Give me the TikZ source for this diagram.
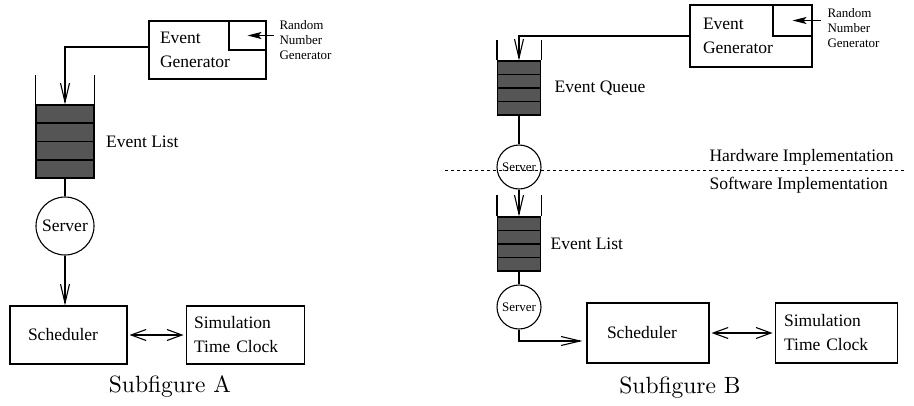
\documentclass[tikz,border=0pt]{standalone}
\usepackage{fontspec}
\newfontfamily\tnr{Liberation Serif}
\newfontfamily\capfont{lmroman10-regular}[Extension=.otf]
\usetikzlibrary{calc, arrows.meta, positioning}
\definecolor{stackgray}{RGB}{85,85,85}

\begin{document}
\begin{tikzpicture}[
    x=1pt, y=-1pt,
    line width=1.1pt,
    every node/.style={
            font=\tnr\fontsize{17.5}{24}\selectfont,
            inner sep=0pt
        },
    box/.style={
            draw,
            rectangle,
            minimum width=117pt,
            minimum height=58pt,
            align=left
        },
    smallbox/.style={draw, rectangle, anchor=north east},
    stack/.style={draw, rectangle, fill=stackgray},
    server/.style={draw, circle},
    small/.style={font=\tnr\fontsize{13}{15}\selectfont},
    caption/.style={font=\capfont\fontsize{23.5}{28}\selectfont},
    conn/.style={-{Straight Barb[length=19pt, width=9pt]}},
    dbl/.style={{Straight Barb[length=15pt, width=11pt]}-{Straight Barb[length=15pt, width=11pt]}, shorten <=2pt, shorten >=2pt},
    rngarrow/.style={-{Stealth[length=14pt, width=7pt, inset=3pt]}},
    divider/.style={line width=0.7pt, dash pattern=on 3pt off 3pt},
    ]

    \useasboundingbox (0,0) rectangle (914,405);

    % --- Subfigure A ---
    \node (genA) [box, text width=95pt] at (207.5,50) {Event\\Generator};
    \node (rngA) [smallbox, minimum width=37pt, minimum height=29pt] at (genA.north east) {};
    \node (rngAtext) [small, anchor=west, align=left] at (279,40) {Random\\Number\\Generator};
    \node (queueA) [stack, minimum width=58pt, minimum height=73pt] at (65,141.5) {};
    \node (listA) [right=11pt of queueA] {Event List};
    \node (serverA) [server, minimum size=58pt] at (65,226) {Server};
    \node (schedA) [box, text width=81pt] at (68.5,335) {Scheduler};
    \node (clockA) [box, minimum width=118pt, text width=102pt, right=58pt of schedA] {Simulation\\Time Clock};
    \node (capA) [caption] at (170,387) {Subfigure A};

    \draw[rngarrow] ([xshift=7pt]rngA.east) -- (rngA.center);
    \draw[conn] ([yshift=3pt]genA.west) -| (queueA.north);
    \draw (queueA.north west) -- ++(0,-29);
    \draw (queueA.north east) -- ++(0,-29);
    \foreach \f in {0.25,0.5,0.75}
    \draw ($(queueA.north west)!\f!(queueA.south west)$) -- ($(queueA.north east)!\f!(queueA.south east)$);
    \draw (queueA.south) -- (serverA.north);
    \draw[conn] (serverA.south) -- (serverA.south |- schedA.north);
    \draw[dbl] (schedA.east) -- (clockA.west);

    % --- Subfigure B ---
    \node (genB) [box, minimum width=122pt, minimum height=62pt, text width=96pt] at (751,36) {Event\\Generator};
    \node (rngB) [smallbox, minimum width=39pt, minimum height=31pt] at (genB.north east) {};
    \node (rngBtext) [small, anchor=west, align=left] at (827,28.5) {Random\\Number\\Generator};
    \node (queueB) [stack, minimum width=43pt, minimum height=54pt] at (519,88) {};
    \node (queueBtext) [right=13pt of queueB] {Event Queue};
    \node (serverB) [server, small, minimum size=44pt] at (519,167) {Server};
    \node (listB) [stack, minimum width=43pt, minimum height=54pt] at (519,244) {};
    \node (listBtext) [right=9pt of listB] {Event List};
    \node (serverB2) [server, small, minimum size=44pt] at (519,307) {Server};
    \node (schedB) [box, minimum width=122pt, minimum height=60pt, text width=82pt] at (648,333) {Scheduler};
    \node (clockB) [box, minimum width=122pt, minimum height=60pt, text width=104pt, right=65pt of schedB] {Simulation\\Time Clock};
    \node (hw) [anchor=west] at (709,157) {Hardware Implementation};
    \node (sw) [anchor=west] at (709,185) {Software Implementation};
    \node (capB) [caption] at (680,388) {Subfigure B};

    % --- Hardware / Software split ---
    \coordinate (divL) at (445,170);
    \coordinate (divR) at (905,170);
    \draw[divider] (divL) -- (divR);

    \draw[rngarrow] ([xshift=8pt]rngB.east) -- (rngB.center);
    \draw[conn] (genB.west) -| (queueB.north);
    \foreach \q/\h in {queueB/20, listB/21} {
        \draw (\q.north west) -- ++(0,-\h);
        \draw (\q.north east) -- ++(0,-\h);
        \foreach \f in {0.25,0.5,0.75}
        \draw ($(\q.north west)!\f!(\q.south west)$) -- ($(\q.north east)!\f!(\q.south east)$);
    }
    \draw (queueB.south) -- (serverB.north);
    \draw[conn] (serverB.south) -- (listB.north);
    \draw (listB.south) -- (serverB2.north);
    \draw[conn, shorten >=4pt] (serverB2.south) |- ([yshift=-8pt]schedB.west);
    \draw[dbl] (schedB.east) -- (clockB.west);

\end{tikzpicture}
\end{document}
